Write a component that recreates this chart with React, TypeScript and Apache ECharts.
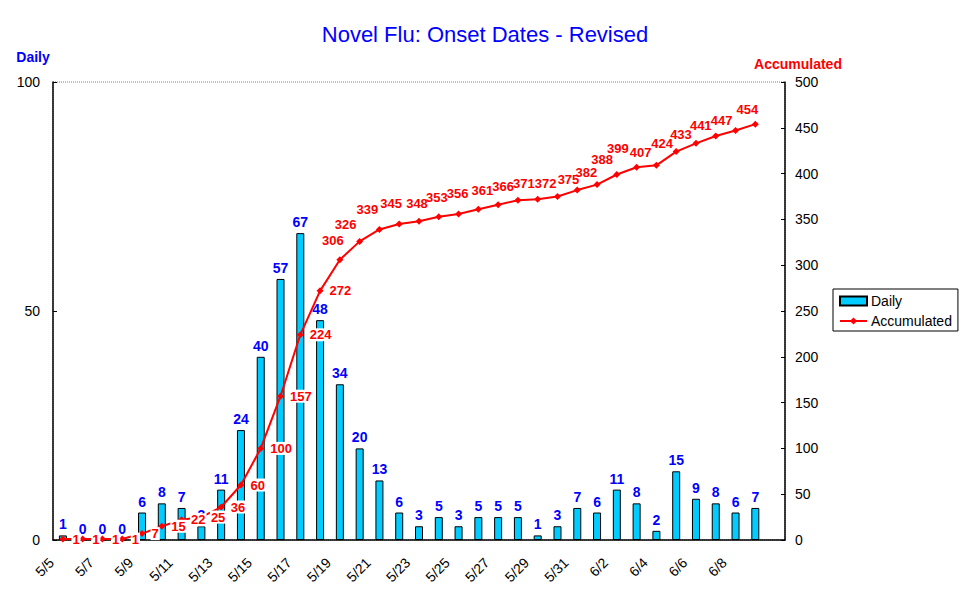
import React, { useEffect, useRef } from "react";
import * as echarts from "echarts";

const categories = [
  "5/5", "5/6", "5/7", "5/8", "5/9", "5/10", "5/11", "5/12", "5/13", "5/14",
  "5/15", "5/16", "5/17", "5/18", "5/19", "5/20", "5/21", "5/22", "5/23", "5/24",
  "5/25", "5/26", "5/27", "5/28", "5/29", "5/30", "5/31", "6/1", "6/2", "6/3",
  "6/4", "6/5", "6/6", "6/7", "6/8", "6/9", "",
];

const daily = [
  1, 0, 0, 0, 6, 8, 7, 3, 11, 24, 40, 57, 67, 48, 34, 20, 13, 6, 3, 5, 3, 5, 5, 5,
  1, 3, 7, 6, 11, 8, 2, 15, 9, 8, 6, 7,
];

const accumulated = [
  1, 1, 1, 1, 7, 15, 22, 25, 36, 60, 100, 157, 224, 272, 306, 326, 339, 345, 348,
  353, 356, 361, 366, 371, 372, 375, 382, 388, 399, 407, 409, 424, 433, 441, 447, 454,
];

const leftTicks = { min: 0, max: 100, interval: 50 };
const rightTicks = { min: 0, max: 500, interval: 50 };

// label placement (style only): from this index on, labels sit above the points
const upperLabelStart = 14;
const hiddenLabels = [30];
// [dx, dy] pixel nudges of the upper labels, indices 14..35
const upperLabelOffsets: [number, number][] = [
  [-7, -4], [-14, -2], [-12, -5], [-8, -5], [-2, -3], [-2, -4], [-1, -5],
  [4, -4], [5, -3], [6, -2], [8, -1], [11, -2], [9, -3], [5, -10], [1, -11],
  [4, 0], [0, 0], [-14, 7], [-15, 6], [-15, 4], [-14, 5], [-8, 0],
];

const FONT = "Liberation Sans, Arial, sans-serif";

export default function App() {
  const ref = useRef<HTMLDivElement>(null);

  useEffect(() => {
    if (!ref.current) return;
    const chart = echarts.init(ref.current, null, { renderer: "svg" });

    const accData = accumulated.map((v, i) => {
      if (hiddenLabels.includes(i)) return { value: v, label: { show: false } };
      if (i >= upperLabelStart)
        return {
          value: v,
          label: {
            position: "top",
            offset: upperLabelOffsets[i - upperLabelStart] || [0, 0],
            backgroundColor: "transparent",
          },
        };
      return { value: v };
    });

    chart.setOption({
      animation: false,
      backgroundColor: "#ffffff",
      textStyle: { fontFamily: FONT },
      title: {
        text: "Novel Flu: Onset Dates - Revised",
        left: "center",
        top: 18,
        textStyle: { color: "#0000ff", fontSize: 22, fontWeight: "normal", fontFamily: FONT },
      },
      legend: {
        orient: "vertical",
        left: 833,
        top: 289,
        width: 128,
        padding: [5, 6, 3, 6],
        itemGap: 6,
        itemWidth: 27,
        itemHeight: 9,
        borderColor: "#000000",
        borderWidth: 1,
        borderRadius: 0,
        textStyle: { color: "#000000", fontSize: 14, fontFamily: FONT, padding: [0, 0, 0, -1] },
        data: [
          { name: "Daily", icon: "rect" },
          { name: "Accumulated" },
        ],
      },
      grid: {
        left: 53,
        right: 185,
        top: 82,
        bottom: 64,
        show: true,
        borderColor: "#808080",
        borderWidth: 1,
        borderType: "dotted",
        backgroundColor: "transparent",
      },
      xAxis: {
        type: "category",
        data: categories,
        boundaryGap: true,
        axisLine: { lineStyle: { color: "#000000", width: 1.5 } },
        axisTick: { inside: true, length: 4, lineStyle: { color: "#000000" } },
        axisLabel: {
          interval: 1,
          rotate: 45,
          margin: 9,
          padding: [0, 16, 0, 0],
          color: "#000000",
          fontSize: 14,
          fontFamily: FONT,
        },
        splitLine: { show: false },
      },
      yAxis: [
        {
          type: "value",
          ...leftTicks,
          name: "Daily",
          nameLocation: "end",
          nameGap: 18,
          nameTextStyle: {
            color: "#0000ff",
            fontWeight: "bold",
            fontSize: 14,
            fontFamily: FONT,
            padding: [0, 40, 0, 0],
          },
          axisLine: { show: true, lineStyle: { color: "#000000", width: 1.5 } },
          axisTick: { show: true, inside: true, length: 4, lineStyle: { color: "#000000" } },
          axisLabel: { color: "#000000", fontSize: 14, fontFamily: FONT, margin: 13 },
          splitLine: { show: false },
        },
        {
          type: "value",
          ...rightTicks,
          position: "right",
          name: "Accumulated",
          nameLocation: "end",
          nameGap: 11,
          nameTextStyle: {
            color: "#ff0000",
            fontWeight: "bold",
            fontSize: 14,
            fontFamily: FONT,
            padding: [0, 0, 0, 26],
          },
          axisLine: { show: true, lineStyle: { color: "#000000", width: 1.5 } },
          axisTick: { show: true, inside: true, length: 4, lineStyle: { color: "#000000" } },
          axisLabel: { color: "#000000", fontSize: 14, fontFamily: FONT, margin: 10 },
          splitLine: { show: false },
        },
      ],
      series: [
        {
          name: "Daily",
          type: "bar",
          data: daily,
          yAxisIndex: 0,
          barWidth: 8,
          itemStyle: { color: "#00ccff", borderColor: "#000000", borderWidth: 1 },
          label: {
            show: true,
            position: "top",
            distance: 4,
            color: "#0000ff",
            fontWeight: "bold",
            fontSize: 14,
            fontFamily: FONT,
          },
          z: 2,
        },
        {
          name: "Accumulated",
          type: "line",
          data: accData,
          yAxisIndex: 1,
          symbol: "diamond",
          symbolSize: 7,
          itemStyle: { color: "#ff0000" },
          lineStyle: { color: "#ff0000", width: 2 },
          label: {
            show: true,
            position: "right",
            distance: 5,
            color: "#ff0000",
            fontWeight: "bold",
            fontSize: 13,
            fontFamily: FONT,
            backgroundColor: "#ffffff",
            padding: [0, 1],
          },
          z: 3,
        },
      ],
    });

    return () => chart.dispose();
  }, []);

  return (
    <div
      ref={ref}
      style={{ position: "fixed", left: 0, top: 0, width: 970, height: 604 }}
    />
  );
}
